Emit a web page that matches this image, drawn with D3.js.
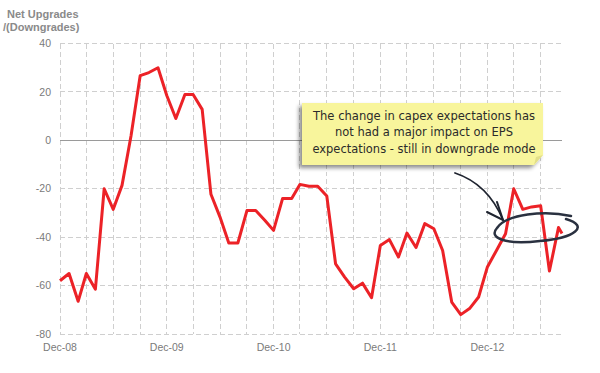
<!DOCTYPE html>
<html>
<head>
<meta charset="utf-8">
<script src="https://cdn.jsdelivr.net/npm/d3@7"></script>
<style>
  body { margin: 0; background: #fff; }
  svg { display: block; font-family: "Liberation Sans", Arial, sans-serif; }
</style>
</head>
<body>
<svg width="600" height="373"></svg>
<script>
// monthly net upgrades/(downgrades), Dec-08 onwards
let months = [
  "2008-12", "2009-01", "2009-02", "2009-03", "2009-04", "2009-05", "2009-06", "2009-07",
  "2009-08", "2009-09", "2009-10", "2009-11", "2009-12", "2010-01", "2010-02", "2010-03",
  "2010-04", "2010-05", "2010-06", "2010-07", "2010-08", "2010-09", "2010-10", "2010-11",
  "2010-12", "2011-01", "2011-02", "2011-03", "2011-04", "2011-05", "2011-06", "2011-07",
  "2011-08", "2011-09", "2011-10", "2011-11", "2011-12", "2012-01", "2012-02", "2012-03",
  "2012-04", "2012-05", "2012-06", "2012-07", "2012-08", "2012-09", "2012-10", "2012-11",
  "2012-12", "2013-01", "2013-02", "2013-03", "2013-04", "2013-05", "2013-06", "2013-07",
  "2013-08", "2013-08-13"
];
let netRevisions = [
  -58, -55, -66.5, -55, -61.5, -20, -28.5, -18.6,
  2, 26.7, 28, 30, 18.5, 9, 18.9, 18.9,
  12.8, -22.3, -31.7, -42.4, -42.4, -29, -29, -33,
  -37.2, -24, -24, -18.2, -19, -19, -23, -51,
  -56.5, -61.3, -59, -65, -43.4, -41, -48.2, -38.3,
  -44.3, -34.4, -36.5, -45.5, -66.8, -72, -69.5, -64.7,
  -52.3, -45.5, -38.6, -20, -28.5, -27.5, -27, -54,
  -36, -38.5
];
let yTicks = [-80, -60, -40, -20, 0, 20, 40];
let xLabelYears = ["2008-12", "2009-12", "2010-12", "2011-12", "2012-12"];
let noteLines = [
  "The change in capex expectations has",
  "not had a major impact on EPS",
  "expectations - still in downgrade mode"
];

let parse = d3.isoParse;
let data = months.map(function(m, i) { return { date: parse(m), value: netRevisions[i] }; });

let svg = d3.select("svg");

let x = d3.scaleTime()
    .domain(d3.extent(data, function(d) { return d.date; }))
    .range([60, 562]);
let y = d3.scaleLinear().domain([-80, 40]).range([334, 43.5]);

let grid = svg.append("g")
    .attr("stroke", "#cfcfcf")
    .attr("stroke-dasharray", "5,3")
    .attr("stroke-width", 1)
    .attr("shape-rendering", "crispEdges");

let quarters = d3.timeMonth.range(parse("2008-12"), x.domain()[1], 3);
grid.selectAll(".vgrid")
    .data(quarters)
  .enter().append("line")
    .attr("x1", function(d) { return x(d); })
    .attr("x2", function(d) { return x(d); })
    .attr("y1", y(40))
    .attr("y2", y(-80));

grid.selectAll(".hgrid")
    .data(yTicks.filter(function(t) { return t !== 0; }))
  .enter().append("line")
    .attr("x1", x.range()[0])
    .attr("x2", x.range()[1])
    .attr("y1", function(d) { return y(d); })
    .attr("y2", function(d) { return y(d); });

svg.append("line")
    .attr("x1", x.range()[0])
    .attr("x2", x.range()[1])
    .attr("y1", y(0))
    .attr("y2", y(0))
    .attr("stroke", "#9a9a9a")
    .attr("shape-rendering", "crispEdges");

svg.append("g").selectAll("text")
    .data(yTicks)
  .enter().append("text")
    .attr("x", 51)
    .attr("y", function(d) { return y(d); })
    .attr("dy", "0.35em")
    .attr("text-anchor", "end")
    .attr("font-size", 10.5)
    .attr("fill", "#7a7a7a")
    .text(function(d) { return d; });

svg.append("g").selectAll("text")
    .data(xLabelYears)
  .enter().append("text")
    .attr("x", function(d) { return x(parse(d)); })
    .attr("y", 351)
    .attr("text-anchor", "middle")
    .attr("font-size", 10.5)
    .attr("fill", "#7a7a7a")
    .text(function(d) { return d3.timeFormat("%b-%y")(parse(d)); });

svg.append("text")
    .attr("font-size", 11)
    .attr("font-weight", "bold")
    .attr("fill", "#8a8a8a")
  .selectAll("tspan")
    .data(["Net Upgrades", "/(Downgrades)"])
  .enter().append("tspan")
    .attr("x", function(d, i) { return i ? 3 : 7; })
    .attr("y", function(d, i) { return 18 + i * 12.5; })
    .text(function(d) { return d; });

let line = d3.line()
    .x(function(d) { return x(d.date); })
    .y(function(d) { return y(d.value); });

svg.append("path")
    .datum(data)
    .attr("fill", "none")
    .attr("stroke", "#ec2227")
    .attr("stroke-width", 3)
    .attr("stroke-linejoin", "round")
    .attr("d", line);

// sticky note
let defs = svg.append("defs");
let shadow = defs.append("filter").attr("id", "shadow")
    .attr("x", "-10%").attr("y", "-20%").attr("width", "120%").attr("height", "150%");
shadow.append("feGaussianBlur").attr("in", "SourceAlpha").attr("stdDeviation", 2);
shadow.append("feOffset").attr("dx", -3).attr("dy", 3).attr("result", "blur");
shadow.append("feComponentTransfer").append("feFuncA").attr("type", "linear").attr("slope", 0.45);
let merge = shadow.append("feMerge");
merge.append("feMergeNode");
merge.append("feMergeNode").attr("in", "SourceGraphic");

let note = svg.append("g");
note.append("path")
    .attr("d", "M302,103 H543 V155 L534,165 H302 Z")
    .attr("fill", "#f8f59c")
    .attr("filter", "url(#shadow)");
note.append("path")
    .attr("d", "M543,155 L534,165 L536,157 Z")
    .attr("fill", "#e2df88");

let noteWidths = [222, 178, 223];
note.selectAll("text")
    .data(noteLines)
  .enter().append("text")
    .attr("x", 424)
    .attr("y", function(d, i) { return 120 + i * 16.3; })
    .attr("text-anchor", "middle")
    .attr("font-family", "'Comic Sans MS', 'DejaVu Sans Condensed', 'DejaVu Sans', cursive")
    .attr("font-size", 12.5)
    .attr("fill", "#2b2b2b")
    .attr("textLength", function(d, i) { return noteWidths[i]; })
    .attr("lengthAdjust", "spacingAndGlyphs")
    .text(function(d) { return d; });

// hand-drawn arrow and circle
let ink = svg.append("g")
    .attr("fill", "none")
    .attr("stroke", "#1f2430")
    .attr("stroke-linecap", "round");

ink.append("path")
    .attr("d", "M455,173 Q488,184 503,220")
    .attr("stroke-width", 1.8);
ink.append("path")
    .attr("d", "M497,202 L503,220 L487,212")
    .attr("stroke-width", 2);

ink.append("path")
    .attr("d", "M566,219 C590,226 575,238 540,241 C505,245 488,238 497,228 C506,214 545,210 571,216")
    .attr("stroke", "#2a3140")
    .attr("stroke-width", 2.5);
</script>
</body>
</html>
